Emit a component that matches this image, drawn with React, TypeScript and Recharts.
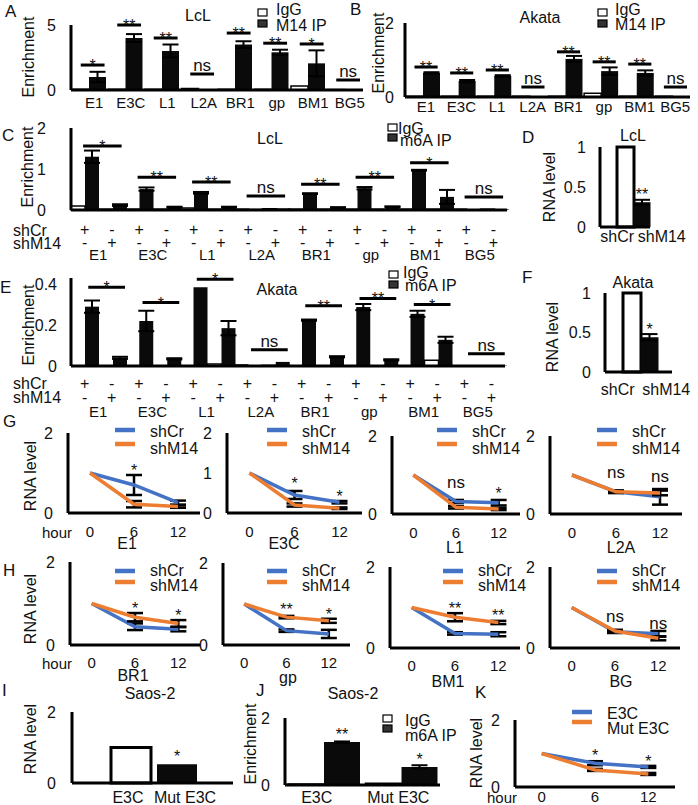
import React from 'react';
import { BarChart, Bar, LineChart, Line, XAxis, YAxis, ErrorBar, LabelList, Cell } from 'recharts';

// ---------- data ----------
const targets = ['E1', 'E3C', 'L1', 'L2A', 'BR1', 'gp', 'BM1', 'BG5'];
const hours = ['0', '6', '12'];

// A: LcL, M14 IP
const aIgG = [0.05, 0.05, 0.05, 0.12, 0.05, 0.05, 0.3, 0.03];
const aIP = [1.0, 4.0, 3.0, 0.02, 3.5, 2.9, 2.05, 0.03];
const aErr = [0.4, 0.3, 0.5, 0, 0.25, 0.2, 1.0, 0];
const aSig = [1.92, 5.0, 4.0, 1.23, 4.38, 3.6, 3.54, 0.77];
const aSigText = ['*', '**', '**', 'ns', '**', '**', '*', 'ns'];

// B: Akata, M14 IP
const bIgG = [0.02, 0.02, 0.02, 0.02, 0.02, 0.1, 0.02, 0.02];
const bIP = [0.65, 0.43, 0.57, 0.02, 1.03, 0.7, 0.65, 0.02];
const bErr = [0.02, 0.03, 0.02, 0, 0.08, 0.1, 0.07, 0];
const bSig = [0.81, 0.65, 0.73, 0.27, 1.22, 0.95, 0.89, 0.27];
const bSigText = ['**', '**', '**', 'ns', '**', '**', '**', 'ns'];

// C: LcL, m6A IP (shCr / shM14)
const cCrIgG = [0.1, 0.02, 0.05, 0.02, 0.02, 0.02, 0.02, 0.02];
const cCrIP = [1.3, 0.51, 0.42, 0.03, 0.4, 0.53, 0.97, 0.02];
const cCrErr = [0.15, 0.04, 0.02, 0, 0.01, 0.03, 0.01, 0];
const cM14IgG = [0.02, 0.02, 0.02, 0.03, 0.02, 0.02, 0.02, 0.02];
const cM14IP = [0.12, 0.07, 0.07, 0.04, 0.06, 0.08, 0.32, 0.02];
const cM14Err = [0.02, 0.01, 0.01, 0, 0.01, 0.01, 0.17, 0];
const cSig = [1.56, 0.8, 0.68, 0.34, 0.63, 0.8, 1.15, 0.32];
const cSigText = ['*', '**', '**', 'ns', '**', '**', '*', 'ns'];

// E: Akata, m6A IP (shCr / shM14)
const eCrIgG = [0, 0, 0, 0.005, 0, 0, 0, 0];
const eCrIP = [0.29, 0.22, 0.385, 0.005, 0.224, 0.288, 0.255, 0.002];
const eCrErr = [0.03, 0.05, 0, 0, 0.003, 0.015, 0.015, 0];
const eM14IgG = [0, 0, 0.01, 0.003, 0, 0, 0.028, 0];
const eM14IP = [0.04, 0.035, 0.185, 0.02, 0.045, 0.03, 0.128, 0.002];
const eM14Err = [0.005, 0.003, 0.035, 0, 0.003, 0.003, 0.015, 0];
const eSig = [0.385, 0.31, 0.424, 0.08, 0.294, 0.33, 0.3, 0.06];
const eSigText = ['*', '*', '*', 'ns', '**', '**', '*', 'ns'];

// D / F: RNA level after knockdown
const kdNames = ['shCr', 'shM14'];
const dVals = [1, 0.31];
const dErr = [0, 0.03];
const dSig = ['', '**'];
const fVals = [1, 0.44];
const fErr = [0, 0.04];
const fSig = ['', '*'];

// G / H: decay curves (rows: E1, E3C, L1, L2A / BR1, gp, BM1, BG)
const gNames = ['E1', 'E3C', 'L1', 'L2A'];
const gShCr = [[1, 0.7, 0.26], [1, 0.45, 0.27], [1, 0.32, 0.29], [1, 0.57, 0.44]];
const gShCrErr = [[0, 0.25, 0.05], [0, 0.1, 0.03], [0, 0.04, 0.07], [0, 0.03, 0.2]];
const gShM14 = [[1, 0.22, 0.16], [1, 0.2, 0.12], [1, 0.17, 0.13], [1, 0.57, 0.54]];
const gShM14Err = [[0, 0.08, 0.03], [0, 0.04, 0.02], [0, 0.03, 0.03], [0, 0.03, 0.06]];
const gSig = [['', '*', ''], ['', '*', '*'], ['', 'ns', '*'], ['', 'ns', 'ns']];
const gSigY = [[0, 1.16, 0], [0, 0.83, 0.49], [0, 0.79, 0.62], [0, 1.04, 0.96]];

const hNames = ['BR1', 'gp', 'BM1', 'BG'];
const hShCr = [[1, 0.44, 0.38], [1, 0.35, 0.27], [1, 0.36, 0.34], [1, 0.4, 0.35]];
const hShCrErr = [[0, 0.08, 0.05], [0, 0.03, 0.1], [0, 0.03, 0.05], [0, 0.03, 0.07]];
const hShM14 = [[1, 0.67, 0.52], [1, 0.68, 0.59], [1, 0.76, 0.63], [1, 0.42, 0.24]];
const hShM14Err = [[0, 0.1, 0.08], [0, 0.03, 0.05], [0, 0.1, 0.04], [0, 0.03, 0.05]];
const hSig = [['', '*', '*'], ['', '**', '*'], ['', '**', '**'], ['', 'ns', 'ns']];
const hSigY = [[0, 0.96, 0.8], [0, 0.94, 0.84], [0, 1.06, 0.9], [0, 0.76, 0.59]];

// I / J / K: Saos-2
const mutNames = ['E3C', 'Mut E3C'];
const iVals = [1.0, 0.53];
const iSig = ['', '*'];
const jIgG = [0.03, 0.05];
const jIP = [1.28, 0.54];
const jErr = [0.02, 0.05];
const jSig = ['**', '*'];
const kE3C = [1, 0.71, 0.6];
const kE3CErr = [0, 0.06, 0.03];
const kMut = [1, 0.51, 0.39];
const kMutErr = [0, 0.03, 0.03];
const kSig = ['', '*', '*'];
const kSigY = [0, 1.04, 0.87];

// ---------- styling helpers ----------
const INK = '#111';
const BAR = '#0a0a0a';
const BLUE = '#4472C4';
const ORANGE = '#ED7D31';
const AX = { stroke: '#000', strokeWidth: 3 };
const FONT = '"Liberation Sans", Arial, sans-serif';

type Plot = [number, number, number, number];

// chart box placed so that its plot area lands on the given rectangle
const geom = (p: Plot, yw: number, mt: number, mr: number, xh: number) => ({
  style: { position: 'absolute', left: p[0] - yw, top: p[1] - mt } as React.CSSProperties,
  width: p[2] - p[0] + yw + mr,
  height: p[3] - p[1] + mt + xh,
  margin: { top: mt, right: mr, bottom: 0, left: 0 },
});

const yTick = (p: any) => (
  <text x={p.x} y={p.y} dy="0.36em" textAnchor="end" fontSize={16} fill={INK}>{p.payload.value}</text>
);

const xTick = (fs: number, dxs: number[] | number = 0) => (p: any) => {
  const dx = Array.isArray(dxs) ? dxs[p.index] || 0 : dxs;
  return (
    <text x={p.x + dx} y={p.y} dy="0.72em" textAnchor="middle" fontSize={fs} fill={INK}>{p.payload.value}</text>
  );
};

const sigShape = (from: number, to: number) => (p: any) => {
  const x1 = p.x + p.width * from;
  const x2 = p.x + p.width * to;
  const ns = p.payload.sigText === 'ns';
  return (
    <g>
      <line x1={x1} x2={x2} y1={p.y} y2={p.y} stroke="#000" strokeWidth={3} />
      <text x={(x1 + x2) / 2} y={ns ? p.y - 3 : p.y + 6} textAnchor="middle" fontSize={ns ? 17 : 16}
        fill={INK} stroke="none" style={{ fill: INK }}>
        {p.payload.sigText}
      </text>
    </g>
  );
};

const starTop = (p: any) =>
  p.value ? (
    <text x={p.x + p.width / 2} y={p.y - 2} textAnchor="middle" fontSize={16} fill={INK} style={{ fill: INK }}>{p.value}</text>
  ) : null;

const sigPoint = (p: any) => {
  if (!p.value || p.y == null || isNaN(p.y)) return null;
  const ns = p.value === 'ns';
  return (
    <text x={p.x} y={ns ? p.y + 5 : p.y + 9} textAnchor="middle" fontSize={ns ? 17 : 16} fill={INK}>{p.value}</text>
  );
};

// ---------- charts ----------
function PairChart({ plot, igg, ip, err, sig, sigText, max, yTicks, tickGap, labelGap, labelDx }: any) {
  const data = targets.map((name, i) => ({ name, igg: igg[i], ip: ip[i], err: err[i], sig: sig[i], sigText: sigText[i] }));
  const g = geom(plot, 60, 24, 8, 30);
  return (
    <div style={g.style}>
      <BarChart width={g.width} height={g.height} data={data} margin={g.margin} barGap={0} barCategoryGap={1}>
        <XAxis dataKey="name" interval={0} height={30} tickLine={false} tickSize={0} tickMargin={labelGap} axisLine={AX} tick={xTick(15, labelDx)} />
        <XAxis dataKey="name" xAxisId="sig" hide />
        <YAxis domain={[0, max]} ticks={yTicks} width={60} tickLine={false} tickSize={0} tickMargin={tickGap} axisLine={AX} tick={yTick} />
        <Bar dataKey="igg" fill="#fff" stroke="#000" strokeWidth={1.5} isAnimationActive={false} />
        <Bar dataKey="ip" fill={BAR} isAnimationActive={false}>
          <ErrorBar dataKey="err" width={8} strokeWidth={2} stroke="#000" direction="y" />
        </Bar>
        <Bar dataKey="sig" xAxisId="sig" fill="none" isAnimationActive={false} shape={sigShape(0.25, 0.93)} />
      </BarChart>
    </div>
  );
}

function GroupChart({ plot, crIgG, crIP, crErr, mIgG, mIP, mErr, sig, sigText, max, yTicks, tickGap, rows, sigFrom, sigTo }: any) {
  const data = targets.map((name, i) => ({
    name, a: crIgG[i], b: crIP[i], be: crErr[i], c: mIgG[i], d: mIP[i], de: mErr[i], sig: sig[i], sigText: sigText[i],
  }));
  const g = geom(plot, 60, 24, 8, 56);
  const q = (plot[2] - plot[0]) / targets.length / 4;
  const tick = (p: any) => (
    <g fill={INK} textAnchor="middle">
      <text x={p.x - q} y={p.y + rows[0]} fontSize={16} dominantBaseline="central">+</text>
      <text x={p.x + q} y={p.y + rows[0]} fontSize={16} dominantBaseline="central">-</text>
      <text x={p.x - q} y={p.y + rows[1]} fontSize={16} dominantBaseline="central">-</text>
      <text x={p.x + q} y={p.y + rows[1]} fontSize={16} dominantBaseline="central">+</text>
      <text x={p.x} y={p.y + rows[2]} fontSize={15} dominantBaseline="central">{p.payload.value}</text>
    </g>
  );
  return (
    <div style={g.style}>
      <BarChart width={g.width} height={g.height} data={data} margin={g.margin} barGap={0} barCategoryGap={0}>
        <XAxis dataKey="name" interval={0} height={56} tickLine={false} tickSize={0} tickMargin={0} axisLine={AX} tick={tick} />
        <XAxis dataKey="name" xAxisId="sig" hide />
        <YAxis domain={[0, max]} ticks={yTicks} width={60} tickLine={false} tickSize={0} tickMargin={tickGap} axisLine={AX} tick={yTick} />
        <Bar dataKey="a" fill="#fff" stroke="#000" strokeWidth={1.5} isAnimationActive={false} />
        <Bar dataKey="b" fill={BAR} isAnimationActive={false}>
          <ErrorBar dataKey="be" width={8} strokeWidth={2} stroke="#000" direction="y" />
        </Bar>
        <Bar dataKey="c" fill="#fff" stroke="#000" strokeWidth={1.5} isAnimationActive={false} />
        <Bar dataKey="d" fill={BAR} isAnimationActive={false}>
          <ErrorBar dataKey="de" width={8} strokeWidth={2} stroke="#000" direction="y" />
        </Bar>
        <Bar dataKey="sig" xAxisId="sig" fill="none" isAnimationActive={false} shape={sigShape(sigFrom, sigTo)} />
      </BarChart>
    </div>
  );
}

// one series, first bar hollow, second bar solid
function DuoChart({ plot, names, vals, errs, sigs, yTicks, tickGap, labelGap, labelDx, pad, gap }: any) {
  const data = names.map((name: string, i: number) => ({ name, v: vals[i], e: errs ? errs[i] : 0, s: sigs[i] }));
  const g = geom(plot, 60, 24, 45, 30);
  return (
    <div style={g.style}>
      <BarChart width={g.width} height={g.height} data={data} margin={g.margin} barCategoryGap={gap}>
        <XAxis dataKey="name" interval={0} height={30} padding={pad} tickLine={false} tickSize={0} tickMargin={labelGap} axisLine={AX} tick={xTick(16, labelDx)} />
        <YAxis domain={[0, yTicks[yTicks.length - 1]]} ticks={yTicks} width={60} tickLine={false} tickSize={0} tickMargin={tickGap} axisLine={AX} tick={yTick} />
        <Bar dataKey="v" isAnimationActive={false}>
          {data.map((d: any, i: number) => (
            <Cell key={d.name} fill={i === 0 ? '#fff' : BAR} stroke="#000" strokeWidth={i === 0 ? 3 : 0} />
          ))}
          {errs ? <ErrorBar dataKey="e" width={8} strokeWidth={2} stroke="#000" direction="y" /> : null}
          <LabelList dataKey="s" content={starTop} />
        </Bar>
      </BarChart>
    </div>
  );
}

function JChart({ plot }: any) {
  const data = mutNames.map((name, i) => ({ name, igg: jIgG[i], ip: jIP[i], e: jErr[i], s: jSig[i] }));
  const g = geom(plot, 60, 24, 8, 30);
  return (
    <div style={g.style}>
      <BarChart width={g.width} height={g.height} data={data} margin={g.margin} barGap={0} barCategoryGap={3}>
        <XAxis dataKey="name" interval={0} height={30} tickLine={false} tickSize={0} tickMargin={6} axisLine={AX} tick={xTick(16, [-7, -3])} />
        <YAxis domain={[0, 2]} ticks={[0, 2]} width={60} tickLine={false} tickSize={0} tickMargin={15} axisLine={AX} tick={yTick} />
        <Bar dataKey="igg" fill="#fff" stroke="#000" strokeWidth={1.5} isAnimationActive={false} />
        <Bar dataKey="ip" fill={BAR} isAnimationActive={false}>
          <ErrorBar dataKey="e" width={8} strokeWidth={2} stroke="#000" direction="y" />
          <LabelList dataKey="s" content={starTop} />
        </Bar>
      </BarChart>
    </div>
  );
}

function TimeChart({ plot, a, aErr, b, bErr, sig, sigY, yTicks, labelGap, colors }: any) {
  const data = hours.map((h, i) => ({ h, a: a[i], ae: aErr[i], b: b[i], be: bErr[i], s: sig[i], sy: sig[i] ? sigY[i] : null }));
  const g = geom(plot, 50, 20, 8, 30);
  const half = (plot[2] - plot[0]) / 6;
  return (
    <div style={g.style}>
      <LineChart width={g.width} height={g.height} data={data} margin={g.margin}>
        <XAxis dataKey="h" interval={0} height={30} padding={{ left: half, right: half }} tickLine={false} tickSize={0} tickMargin={labelGap} axisLine={AX} tick={xTick(15)} />
        <YAxis domain={[0, 2]} ticks={yTicks} width={50} tickLine={false} tickSize={0} tickMargin={15} axisLine={AX} tick={yTick} />
        <Line dataKey="a" stroke={colors[0]} strokeWidth={3.5} dot={false} isAnimationActive={false}>
          <ErrorBar dataKey="ae" width={8} strokeWidth={2.5} stroke="#000" direction="y" />
        </Line>
        <Line dataKey="b" stroke={colors[1]} strokeWidth={3.5} dot={false} isAnimationActive={false}>
          <ErrorBar dataKey="be" width={8} strokeWidth={2.5} stroke="#000" direction="y" />
        </Line>
        <Line dataKey="sy" stroke="none" dot={false} activeDot={false} isAnimationActive={false}>
          <LabelList dataKey="s" content={sigPoint} />
        </Line>
      </LineChart>
    </div>
  );
}

// ---------- overlay text ----------
const Txt = ({ x, y, s = 16, a = 'start', rot = false, children }: any) => (
  <text x={x} y={y} fontSize={s} textAnchor={a} dominantBaseline="central" fill={INK}
    transform={rot ? `rotate(-90 ${x} ${y})` : undefined}>{children}</text>
);
const Swatch = ({ x, y, fill }: any) => (
  <rect x={x} y={y} width={9} height={7} fill={fill} stroke="#000" strokeWidth={1.2} />
);
const Key = ({ x, y, color }: any) => <line x1={x} x2={x + 20} y1={y} y2={y} stroke={color} strokeWidth={4.5} />;

const gPlots: Plot[] = [[68, 433, 200, 513], [227, 433, 362, 513], [392, 436, 520, 514], [550, 436, 682, 514]];
const gTicks = [[0, 2], [0, 1, 2], [0, 2], [0, 2]];
const hPlots: Plot[] = [[70, 562, 200, 645], [223, 563, 350, 645], [390, 567, 520, 648], [550, 567, 680, 648]];

export default function App() {
  const lineLegend = (x: number, y1: number, y2: number, t1: number, t2: number, l1: string, l2: string, key: string) => (
    <g key={key}>
      <Key x={x} y={y1} color={BLUE} />
      <Key x={x} y={y2} color={ORANGE} />
      <Txt x={x + 35} y={t1}>{l1}</Txt>
      <Txt x={x + 35} y={t2}>{l2}</Txt>
    </g>
  );
  return (
    <div style={{ position: 'relative', width: 698, height: 805, overflow: 'hidden', background: '#fff', fontFamily: FONT }}>
      <style>{'body{margin:0}'}</style>

      <PairChart plot={[71, 25, 363, 90]} igg={aIgG} ip={aIP} err={aErr} sig={aSig} sigText={aSigText}
        max={5} yTicks={[0, 5]} tickGap={15} labelGap={7} labelDx={5} />
      <PairChart plot={[405, 23, 690, 97]} igg={bIgG} ip={bIP} err={bErr} sig={bSig} sigText={bSigText}
        max={2} yTicks={[0, 2]} tickGap={11} labelGap={4} labelDx={3} />

      <GroupChart plot={[71, 128, 507, 210]} crIgG={cCrIgG} crIP={cCrIP} crErr={cCrErr} mIgG={cM14IgG} mIP={cM14IP} mErr={cM14Err}
        sig={cSig} sigText={cSigText} max={2} yTicks={[0, 1, 2]} tickGap={25} rows={[19, 32, 44]} sigFrom={0.22} sigTo={0.92} />
      <DuoChart plot={[600, 147, 650, 227]} names={kdNames} vals={dVals} errs={dErr} sigs={dSig} yTicks={[0, 0.5, 1]}
        tickGap={14} labelGap={3} labelDx={[-8, 20]} pad={{ left: 17, right: 0 }} gap={0} />

      <GroupChart plot={[71, 278, 505, 366]} crIgG={eCrIgG} crIP={eCrIP} crErr={eCrErr} mIgG={eM14IgG} mIP={eM14IP} mErr={eM14Err}
        sig={eSig} sigText={eSigText} max={0.43} yTicks={[0, 0.2, 0.4]} tickGap={14} rows={[17, 31, 45]} sigFrom={0.32} sigTo={1.0} />
      <DuoChart plot={[605, 293, 672, 372]} names={kdNames} vals={fVals} errs={fErr} sigs={fSig} yTicks={[0, 0.5, 1]}
        tickGap={14} labelGap={11} labelDx={[-14, 17]} pad={{ left: 18, right: 14 }} gap={0} />

      {gPlots.map((p, i) => (
        <TimeChart key={'g' + i} plot={p} a={gShCr[i]} aErr={gShCrErr[i]} b={gShM14[i]} bErr={gShM14Err[i]}
          sig={gSig[i]} sigY={gSigY[i]} yTicks={gTicks[i]} labelGap={13} colors={[BLUE, ORANGE]} />
      ))}
      {hPlots.map((p, i) => (
        <TimeChart key={'h' + i} plot={p} a={hShCr[i]} aErr={hShCrErr[i]} b={hShM14[i]} bErr={hShM14Err[i]}
          sig={hSig[i]} sigY={hSigY[i]} yTicks={[0, 2]} labelGap={12} colors={[BLUE, ORANGE]} />
      ))}

      <DuoChart plot={[72, 712, 233, 783]} names={mutNames} vals={iVals} sigs={iSig} yTicks={[0, 2]}
        tickGap={16} labelGap={8} labelDx={[-3, 8]} pad={{ left: 36, right: 33 }} gap={3} />
      <JChart plot={[285, 718, 440, 785]} />
      <TimeChart plot={[515, 720, 675, 787]} a={kE3C} aErr={kE3CErr} b={kMut} bErr={kMutErr}
        sig={kSig} sigY={kSigY} yTicks={[0, 2]} labelGap={4} colors={[BLUE, ORANGE]} />

      <svg width={698} height={805} style={{ position: 'absolute', left: 0, top: 0, pointerEvents: 'none' }} fontFamily={FONT}>
        {/* panel letters */}
        <Txt x={5} y={11} s={17}>A</Txt>
        <Txt x={350} y={9} s={17}>B</Txt>
        <Txt x={2} y={135} s={17}>C</Txt>
        <Txt x={522} y={137} s={17}>D</Txt>
        <Txt x={0} y={287} s={17}>E</Txt>
        <Txt x={522} y={277} s={17}>F</Txt>
        <Txt x={3} y={421} s={17}>G</Txt>
        <Txt x={3} y={570} s={17}>H</Txt>
        <Txt x={2} y={690} s={17}>I</Txt>
        <Txt x={256} y={690} s={17}>J</Txt>
        <Txt x={475} y={692} s={17}>K</Txt>

        {/* titles */}
        <Txt x={198} y={15} a="middle">LcL</Txt>
        <Txt x={540} y={17} a="middle">Akata</Txt>
        <Txt x={270} y={138} a="middle">LcL</Txt>
        <Txt x={633} y={135} a="middle">LcL</Txt>
        <Txt x={277} y={289} a="middle">Akata</Txt>
        <Txt x={633} y={282} a="middle">Akata</Txt>
        <Txt x={150} y={693} a="middle">Saos-2</Txt>
        <Txt x={353} y={693} a="middle">Saos-2</Txt>

        {/* axis titles */}
        <Txt x={28} y={57} a="middle" rot>Enrichment</Txt>
        <Txt x={378} y={53} a="middle" rot>Enrichment</Txt>
        <Txt x={27} y={167} a="middle" rot>Enrichment</Txt>
        <Txt x={549} y={187} a="middle" rot>RNA level</Txt>
        <Txt x={28} y={325} a="middle" rot>Enrichment</Txt>
        <Txt x={552} y={337} a="middle" rot>RNA level</Txt>
        <Txt x={30} y={476} a="middle" rot>RNA level</Txt>
        <Txt x={30} y={609} a="middle" rot>RNA level</Txt>
        <Txt x={30} y={739} a="middle" rot>RNA level</Txt>
        <Txt x={250} y={744} a="middle" rot>Enrichment</Txt>
        <Txt x={476} y={753} a="middle" rot>RNA level</Txt>

        {/* row labels */}
        <Txt x={13} y={230}>shCr</Txt>
        <Txt x={13} y={243}>shM14</Txt>
        <Txt x={13} y={383}>shCr</Txt>
        <Txt x={13} y={397}>shM14</Txt>
        <Txt x={42} y={532} s={15}>hour</Txt>
        <Txt x={42} y={663} s={15}>hour</Txt>
        <Txt x={487} y={797} s={15}>hour</Txt>

        {/* target names under G / H */}
        <Txt x={127} y={543} a="middle">{gNames[0]}</Txt>
        <Txt x={284} y={543} a="middle">{gNames[1]}</Txt>
        <Txt x={455} y={547} a="middle">{gNames[2]}</Txt>
        <Txt x={621} y={547} a="middle">{gNames[3]}</Txt>
        <Txt x={133} y={675} a="middle">{hNames[0]}</Txt>
        <Txt x={288} y={677} a="middle">{hNames[1]}</Txt>
        <Txt x={448} y={681} a="middle">{hNames[2]}</Txt>
        <Txt x={621} y={681} a="middle">{hNames[3]}</Txt>

        {/* bar legends */}
        <Swatch x={258} y={9} fill="#fff" /><Txt x={276} y={9}>IgG</Txt>
        <Swatch x={258} y={20} fill="#333" /><Txt x={276} y={25}>M14 IP</Txt>
        <Swatch x={598} y={9} fill="#fff" /><Txt x={615} y={9}>IgG</Txt>
        <Swatch x={598} y={20} fill="#333" /><Txt x={615} y={24}>M14 IP</Txt>
        <Swatch x={388} y={124} fill="#fff" /><Txt x={398} y={128}>IgG</Txt>
        <Swatch x={388} y={134} fill="#333" /><Txt x={400} y={140}>m6A IP</Txt>
        <Swatch x={389} y={271} fill="#fff" /><Txt x={403} y={272}>IgG</Txt>
        <Swatch x={389} y={281} fill="#333" /><Txt x={405} y={285}>m6A IP</Txt>
        <Swatch x={383} y={715} fill="#fff" /><Txt x={405} y={720}>IgG</Txt>
        <Swatch x={383} y={725} fill="#333" /><Txt x={405} y={735}>m6A IP</Txt>

        {/* line legends */}
        {[115, 267, 437, 597].map((x, i) => lineLegend(x, 430, 444, 431, 448, 'shCr', 'shM14', 'gl' + i))}
        {[115, 267, 443, 597].map((x, i) => lineLegend(x, 571, 582, 570, 585, 'shCr', 'shM14', 'hl' + i))}
        {lineLegend(572, 712, 722, 713, 728, 'E3C', 'Mut E3C', 'kl')}
      </svg>
    </div>
  );
}
